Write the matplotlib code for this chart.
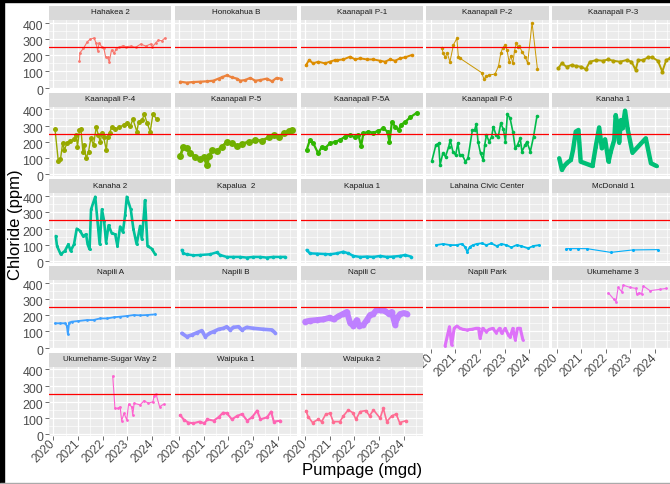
import numpy as np
import matplotlib
matplotlib.use('Agg')
import matplotlib.pyplot as plt
from matplotlib.patches import Rectangle
import matplotlib.transforms as mtransforms

plt.rcParams['font.family'] = ['Liberation Sans', 'DejaVu Sans']

# --- data ---
wells = ['Hahakea 2', 'Honokahua B', 'Kaanapali P-1', 'Kaanapali P-2', 'Kaanapali P-3',
         'Kaanapali P-4', 'Kaanapali P-5', 'Kaanapali P-5A', 'Kaanapali P-6', 'Kanaha 1',
         'Kanaha 2', 'Kapalua  2', 'Kapalua 1', 'Lahaina Civic Center', 'McDonald 1',
         'Napili A', 'Napili B', 'Napili C', 'Napili Park', 'Ukumehame 3',
         'Ukumehame-Sugar Way 2', 'Waipuka 1', 'Waipuka 2']

hahakea2_yr = [2021.06, 2021.08, 2021.22, 2021.38, 2021.49, 2021.65, 2021.73, 2021.8, 2021.86, 2021.96,
               2022.05, 2022.12, 2022.2, 2022.27, 2022.36, 2022.47, 2022.54, 2022.67, 2022.84, 2022.94,
               2023.14, 2023.34, 2023.55, 2023.75, 2023.95, 2024.02, 2024.16, 2024.26, 2024.4, 2024.53]
hahakea2_cl = [166, 215, 242, 283, 298, 306, 277, 228, 277, 252,
               242, 191, 186, 160, 232, 212, 237, 249, 259, 252,
               256, 249, 269, 256, 269, 252, 277, 293, 289, 306]

honokahuab_yr = [2020.04, 2020.31, 2020.58, 2020.85, 2021.12, 2021.39, 2021.6, 2021.73, 2021.93, 2022.14,
                 2022.34, 2022.48, 2022.68, 2022.88, 2023.09, 2023.29, 2023.56, 2023.77, 2023.95, 2024.15]
honokahuab_cl = [37, 31, 35, 37, 39, 43, 56, 64, 76, 64, 56, 43, 47, 60, 43, 47, 56, 39, 60, 56]

p1_yr = [2020.04, 2020.17, 2020.33, 2020.54, 2020.81, 2021.01, 2021.22, 2021.29, 2021.56, 2021.83,
         2022.04, 2022.24, 2022.51, 2022.78, 2023.05, 2023.25, 2023.45, 2023.66, 2023.86, 2024.06, 2024.33]
p1_cl = [138, 170, 150, 160, 150, 160, 170, 170, 174, 191,
         174, 181, 174, 174, 166, 160, 174, 166, 181, 187, 201]

p2_yr = [2020.45, 2020.51, 2020.58, 2020.67, 2020.78, 2020.92, 2021.06, 2021.12, 2021.19, 2022.07,
         2022.16, 2022.25, 2022.38, 2022.61, 2022.75, 2022.84, 2022.92, 2023.02, 2023.09, 2023.18,
         2023.25, 2023.33, 2023.4, 2023.47, 2023.52, 2023.6, 2023.7, 2023.83, 2023.93, 2024.11, 2024.33]
p2_cl = [246, 212, 187, 212, 160, 263, 304, 191, 181, 92,
         52, 72, 78, 84, 134, 212, 246, 263, 234, 160,
         197, 150, 228, 277, 252, 256, 222, 191, 150, 400, 113]

p3_yr = [2020.07, 2020.21, 2020.41, 2020.61, 2020.81, 2021.01, 2021.19, 2021.35, 2021.62, 2021.89,
         2022.09, 2022.3, 2022.57, 2022.84, 2023.04, 2023.21, 2023.31, 2023.51, 2023.71, 2023.88,
         2024.11, 2024.29, 2024.45, 2024.59]
p3_cl = [119, 150, 129, 140, 133, 129, 113, 160, 170, 166,
         174, 166, 160, 170, 160, 109, 170, 170, 187, 187,
         166, 99, 170, 181]

p4_yr = [2020.07, 2020.2, 2020.29, 2020.38, 2020.45, 2020.55, 2020.69, 2020.82, 2020.93, 2020.98,
         2021.06, 2021.12, 2021.2, 2021.25, 2021.33, 2021.43, 2021.52, 2021.63, 2021.74, 2021.83,
         2021.9, 2021.97, 2022.04, 2022.15, 2022.2, 2022.28, 2022.38, 2022.51, 2022.65, 2022.85,
         2022.98, 2023.12, 2023.23, 2023.39, 2023.46, 2023.6, 2023.69, 2023.8, 2023.93, 2024.04, 2024.2]
p4_cl = [277, 84, 92, 195, 150, 191, 207, 216, 242, 170,
         273, 277, 140, 181, 99, 140, 222, 181, 289, 242,
         201, 252, 228, 150, 232, 256, 293, 277, 289, 304,
         318, 297, 339, 263, 324, 334, 371, 318, 263, 371, 339]

p5_yr = [2020.04, 2020.17, 2020.31, 2020.44, 2020.65, 2020.85, 2021.01, 2021.12, 2021.23, 2021.33,
         2021.53, 2021.74, 2021.94, 2022.14, 2022.35, 2022.55, 2022.82, 2023.09, 2023.36, 2023.63,
         2023.84, 2024.04, 2024.24, 2024.45, 2024.58]
p5_cl = [113, 166, 160, 133, 109, 92, 105, 58, 113, 150,
         146, 170, 201, 191, 175, 187, 201, 211, 207, 228,
         242, 232, 252, 269, 273]

p5a_yr = [2020.07, 2020.2, 2020.34, 2020.54, 2020.68, 2020.81, 2021.01, 2021.22, 2021.42, 2021.62,
          2021.83, 2022.03, 2022.17, 2022.28, 2022.37, 2022.57, 2022.78, 2022.98, 2023.18, 2023.35,
          2023.43, 2023.53, 2023.66, 2023.8, 2023.89, 2024.07, 2024.27, 2024.54]
p5a_cl = [150, 211, 191, 129, 170, 160, 191, 201, 211, 232,
          242, 228, 242, 174, 252, 263, 256, 269, 283, 263,
          201, 324, 293, 273, 304, 324, 351, 380]

p6_yr = [2020.05, 2020.21, 2020.32, 2020.38, 2020.49, 2020.6, 2020.73, 2020.79, 2020.9, 2021.01,
         2021.1, 2021.17, 2021.28, 2021.41, 2021.51, 2021.69, 2021.78, 2021.85, 2021.92, 2022.02,
         2022.13, 2022.19, 2022.26, 2022.37, 2022.47, 2022.54, 2022.65, 2022.74, 2022.84, 2022.95,
         2023.03, 2023.11, 2023.22, 2023.33, 2023.43, 2023.52, 2023.63, 2023.7, 2023.83, 2023.9,
         2024.04, 2024.17, 2024.31]
p6_cl = [84, 181, 191, 58, 129, 109, 170, 211, 140, 119,
         191, 119, 119, 78, 99, 273, 273, 310, 201, 129,
         88, 181, 242, 201, 232, 293, 242, 232, 314, 277,
         201, 371, 345, 263, 160, 181, 222, 140, 181, 201,
         140, 232, 359]

kanaha1_yr = [2020.11, 2020.22, 2020.31, 2020.44, 2020.58, 2020.67, 2020.78, 2020.89, 2020.98, 2021.46,
              2021.59, 2021.73, 2021.84, 2021.97, 2022.11, 2022.2, 2022.34, 2022.4, 2022.51, 2022.54,
              2022.61, 2022.68, 2022.78, 2022.88, 2023.08, 2023.62, 2023.83, 2024.06]
kanaha1_cl = [99, 27, 51, 72, 88, 150, 263, 273, 78, 51,
              170, 289, 160, 216, 78, 140, 211, 365, 273, 195,
              334, 283, 392, 283, 133, 222, 68, 51]

kanaha2_yr = [2020.1, 2020.15, 2020.3, 2020.47, 2020.61, 2020.7, 2020.84, 2020.95, 2021.09, 2021.2,
              2021.33, 2021.39, 2021.47, 2021.53, 2021.7, 2021.88, 2021.97, 2022.06, 2022.14, 2022.24,
              2022.37, 2022.51, 2022.6, 2022.71, 2022.82, 2022.91, 2022.98, 2023.14, 2023.25, 2023.38,
              2023.52, 2023.59, 2023.68, 2023.72, 2023.82, 2023.99, 2024.13]
kanaha2_cl = [154, 92, 41, 62, 103, 62, 103, 199, 185, 154,
              164, 103, 72, 318, 396, 103, 318, 246, 113, 220,
              171, 164, 92, 212, 178, 281, 396, 318, 195, 103,
              216, 133, 297, 375, 92, 76, 41]

kapalua2_yr = [2020.11, 2020.17, 2020.31, 2020.58, 2020.85, 2021.25, 2021.52, 2021.66, 2021.93, 2022.2,
               2022.47, 2022.74, 2023.01, 2023.28, 2023.55, 2023.82, 2024.09, 2024.3]
kapalua2_cl = [68, 47, 41, 35, 37, 41, 53, 37, 25, 25, 25, 21, 25, 25, 21, 25, 25, 25]

kapalua1_yr = [2020.07, 2020.2, 2020.5, 2020.8, 2021.02, 2021.29, 2021.56, 2021.76, 2021.97, 2022.24,
               2022.51, 2022.78, 2023.05, 2023.32, 2023.59, 2023.86, 2024.06, 2024.3]
kapalua1_cl = [68, 47, 45, 43, 41, 47, 57, 47, 31, 25, 27, 25, 31, 25, 27, 31, 37, 27]

lahaina_yr = [2020.21, 2020.51, 2020.78, 2021.05, 2021.25, 2021.39, 2021.48, 2021.59, 2021.72, 2021.86,
              2022.06, 2022.26, 2022.46, 2022.67, 2022.87, 2023.07, 2023.27, 2023.48, 2023.68, 2023.95,
              2024.15, 2024.4]
lahaina_cl = [98, 105, 98, 98, 105, 88, 57, 88, 98, 105,
              109, 98, 109, 92, 105, 98, 84, 98, 92, 78, 92, 98]

mcdonald1_yr = [2020.39, 2020.55, 2020.89, 2021.23, 2022.2, 2023.09, 2024.13]
mcdonald1_cl = [76, 76, 76, 76, 53, 68, 70]

napilia_yr = [2020.07, 2020.28, 2020.48, 2020.55, 2020.59, 2020.64, 2020.75, 2021.02, 2021.36, 2021.63,
              2021.9, 2022.18, 2022.45, 2022.72, 2022.99, 2023.26, 2023.53, 2023.8, 2024.14]
napilia_cl = [150, 150, 150, 133, 82, 154, 160, 164, 170, 170,
              180, 180, 187, 191, 195, 201, 199, 201, 205]

napilib_yr = [2020.11, 2020.31, 2020.51, 2020.72, 2020.92, 2021.06, 2021.23, 2021.4, 2021.6, 2021.8,
              2021.93, 2022.07, 2022.2, 2022.41, 2022.54, 2022.74, 2023.01, 2023.42, 2023.76, 2023.89]
napilib_cl = [88, 68, 78, 92, 105, 68, 88, 99, 113, 119,
              129, 109, 125, 129, 109, 125, 119, 113, 109, 92]

napilic_yr = [2020.01, 2020.21, 2020.48, 2020.75, 2021.02, 2021.16, 2021.36, 2021.56, 2021.7, 2021.83,
              2021.97, 2022.1, 2022.21, 2022.37, 2022.51, 2022.64, 2022.78, 2022.89, 2023.05, 2023.25,
              2023.39, 2023.52, 2023.66, 2023.73, 2023.86, 2024.0, 2024.13]
napilic_cl = [160, 166, 170, 174, 185, 174, 193, 209, 220, 154,
              133, 170, 133, 140, 170, 201, 209, 230, 230, 226,
              209, 220, 140, 181, 207, 213, 209]

napilipark_yr = [2020.58, 2020.76, 2020.85, 2020.95, 2021.06, 2021.19, 2021.3, 2021.46, 2021.67, 2021.84,
                 2021.94, 2022.0, 2022.11, 2022.25, 2022.38, 2022.52, 2022.65, 2022.79, 2022.88, 2023.02,
                 2023.15, 2023.22, 2023.33, 2023.43, 2023.52, 2023.63, 2023.74]
napilipark_cl = [10, 129, 16, 119, 133, 119, 113, 109, 113, 119,
                 119, 57, 119, 99, 113, 119, 92, 119, 88, 119,
                 78, 64, 119, 47, 119, 119, 47]

ukumehame3_yr = [2022.1, 2022.33, 2022.41, 2022.5, 2022.64, 2022.71, 2022.98, 2023.22, 2023.25, 2023.35,
                 2023.45, 2023.52, 2023.79, 2024.19, 2024.46]
ukumehame3_cl = [338, 297, 283, 371, 345, 385, 371, 365, 330, 338, 330, 380, 351, 359, 365]

sugarway2_yr = [2022.41, 2022.5, 2022.64, 2022.71, 2022.77, 2022.87, 2022.98, 2023.05, 2023.18, 2023.22,
                2023.28, 2023.52, 2023.68, 2023.86, 2024.04, 2024.09, 2024.17, 2024.31, 2024.47]
sugarway2_cl = [359, 160, 160, 170, 84, 129, 88, 185, 170, 119,
                191, 181, 207, 191, 201, 236, 246, 170, 185]

waipuka1_yr = [2020.04, 2020.2, 2020.38, 2020.58, 2020.83, 2021.02, 2021.15, 2021.4, 2021.6, 2021.78,
               2021.94, 2022.14, 2022.35, 2022.55, 2022.76, 2022.96, 2023.16, 2023.3, 2023.57, 2023.73,
               2023.84, 2024.11]
waipuka1_cl = [119, 88, 72, 68, 78, 68, 92, 84, 105, 133,
               129, 92, 113, 125, 84, 105, 146, 92, 105, 140, 78, 84]

waipuka2_yr = [2020.04, 2020.13, 2020.31, 2020.54, 2020.68, 2020.85, 2021.02, 2021.15, 2021.42, 2021.56,
               2021.76, 2021.94, 2022.07, 2022.24, 2022.48, 2022.62, 2022.78, 2023.05, 2023.18, 2023.32,
               2023.52, 2023.7, 2023.84, 2024.11]
waipuka2_cl = [146, 109, 72, 92, 78, 125, 129, 78, 78, 113,
               150, 133, 92, 140, 146, 113, 150, 99, 160, 78,
               113, 125, 72, 84]

series = [(hahakea2_yr, hahakea2_cl), (honokahuab_yr, honokahuab_cl), (p1_yr, p1_cl),
          (p2_yr, p2_cl), (p3_yr, p3_cl), (p4_yr, p4_cl), (p5_yr, p5_cl), (p5a_yr, p5a_cl),
          (p6_yr, p6_cl), (kanaha1_yr, kanaha1_cl), (kanaha2_yr, kanaha2_cl),
          (kapalua2_yr, kapalua2_cl), (kapalua1_yr, kapalua1_cl), (lahaina_yr, lahaina_cl),
          (mcdonald1_yr, mcdonald1_cl), (napilia_yr, napilia_cl), (napilib_yr, napilib_cl),
          (napilic_yr, napilic_cl), (napilipark_yr, napilipark_cl), (ukumehame3_yr, ukumehame3_cl),
          (sugarway2_yr, sugarway2_cl), (waipuka1_yr, waipuka1_cl), (waipuka2_yr, waipuka2_cl)]

threshold = 250

# line / point sizes per panel (style only)
line_w = [0.8, 1.6, 1.4, 0.7, 1.4, 1.0, 2.0, 1.6, 1.2, 3.2, 1.9, 1.8,
          1.8, 1.3, 0.8, 1.3, 2.6, 4.2, 2.2, 0.8, 0.8, 1.5, 1.2]
mark_s = [2.0, 2.5, 2.6, 2.5, 3.0, 3.6, 5.0, 3.6, 2.6, 2.0, 2.2, 2.6,
          2.6, 2.2, 2.2, 2.0, 2.6, 4.2, 2.0, 2.0, 2.0, 2.6, 2.6]


def hue_pal(n, l=65, c=100):
    # ggplot2 default discrete palette (hcl)
    hues = np.linspace(15, 375, n + 1)[:-1]
    xn, yn, zn = 95.047, 100.0, 108.883
    un = 4 * xn / (xn + 15 * yn + 3 * zn)
    vn = 9 * yn / (xn + 15 * yn + 3 * zn)
    out = []
    for h in hues:
        u = c * np.cos(np.radians(h))
        v = c * np.sin(np.radians(h))
        Y = yn * ((l + 16) / 116) ** 3
        up = u / (13 * l) + un
        vp = v / (13 * l) + vn
        X = Y * 9 * up / (4 * vp)
        Z = Y * (12 - 3 * up - 20 * vp) / (4 * vp)
        xyz = np.array([X, Y, Z]) / 100
        m = np.array([[3.2404542, -1.5371385, -0.4985314],
                      [-0.9692660, 1.8760108, 0.0415560],
                      [0.0556434, -0.2040259, 1.0572252]])
        rgb = m @ xyz
        rgb = np.where(rgb <= 0.0031308, 12.92 * rgb, 1.055 * np.abs(rgb) ** (1 / 2.4) - 0.055)
        out.append(tuple(np.clip(rgb, 0, 1)))
    return out


colors = hue_pal(len(wells))

W, H = 670, 484
fig = plt.figure(figsize=(W / 100, H / 100), dpi=100)


def px_axes(x0, y0, w, h):
    return fig.add_axes([x0 / W, 1 - (y0 + h) / H, w / W, h / H])


panel_w, panel_h = 122.3, 69.3
down = mtransforms.ScaledTranslation(0, -0.025, fig.dpi_scale_trans)

for i, name in enumerate(wells):
    r, c = divmod(i, 5)
    left = 49 + 125.8 * c
    top = 20 + 86.65 * r
    ax = px_axes(left, top, panel_w, panel_h)
    ax.set_facecolor('#EBEBEB')
    ax.set_xlim(2019.825, 2024.785)
    ax.set_ylim(-10, 417)
    ax.set_xticks(range(2020, 2025))
    ax.set_xticks(np.arange(2020.5, 2025, 1), minor=True)
    ax.set_yticks(range(0, 401, 100))
    ax.set_yticks(range(50, 401, 100), minor=True)
    ax.grid(which='major', color='white', lw=0.9)
    ax.grid(which='minor', color='white', lw=0.45)
    ax.set_axisbelow(True)
    for s in ax.spines.values():
        s.set_visible(False)

    yr, cl = series[i]
    ax.plot(yr, cl, color=colors[i], lw=line_w[i], marker='o', ms=mark_s[i], mew=0,
            solid_joinstyle='round', solid_capstyle='round', zorder=2)
    ax.axhline(threshold, color='#FF0000', lw=0.9, zorder=3)

    ax.tick_params(which='both', length=0)
    if c == 0:
        ax.tick_params(axis='y', which='major', length=2.7, width=0.5, color='#333333',
                       labelsize=8.9, labelcolor='#4D4D4D', pad=1.5)
        for lab in ax.get_yticklabels():
            lab.set_transform(lab.get_transform() + down)
    else:
        ax.tick_params(axis='y', labelleft=False)

    show_x = r == 4 or (r == 3 and c >= 3)
    if show_x:
        ax.tick_params(axis='x', which='major', length=2.7, width=0.5, color='#333333',
                       labelsize=8.6, labelcolor='#4D4D4D', pad=2)
        for lab in ax.get_xticklabels():
            lab.set_rotation(45)
            lab.set_ha('right')
            lab.set_va('center')
            lab.set_rotation_mode('anchor')
    else:
        ax.tick_params(axis='x', labelbottom=False)

    strip = px_axes(left, top - 14, panel_w, 14)
    strip.set_facecolor('#D9D9D9')
    strip.set_xticks([])
    strip.set_yticks([])
    for s in strip.spines.values():
        s.set_visible(False)
    strip.text(0.5, 0.5, name, transform=strip.transAxes, ha='center', va='center',
               fontsize=5.8, color='#1A1A1A')

fig.text(16 / W, 1 - 225 / H, 'Chloride (ppm)', rotation=90, fontsize=12,
         ha='center', va='center')
fig.text(362 / W, 1 - 471 / H, 'Pumpage (mgd)', fontsize=12, ha='center', va='center')

# thin dark frame bits seen at the image edges
fig.patches.append(Rectangle((0, 0), 4 / W, 1, transform=fig.transFigure,
                             color='black', zorder=10))
fig.patches.append(Rectangle((0, 1 - 2 / H), 1, 2 / H, transform=fig.transFigure,
                             color='black', zorder=10))
fig.patches.append(Rectangle((0, 0), 1, 1.2 / H, transform=fig.transFigure,
                             color='#AAAAAA', zorder=10))

fig.savefig('out.png', dpi=100)
